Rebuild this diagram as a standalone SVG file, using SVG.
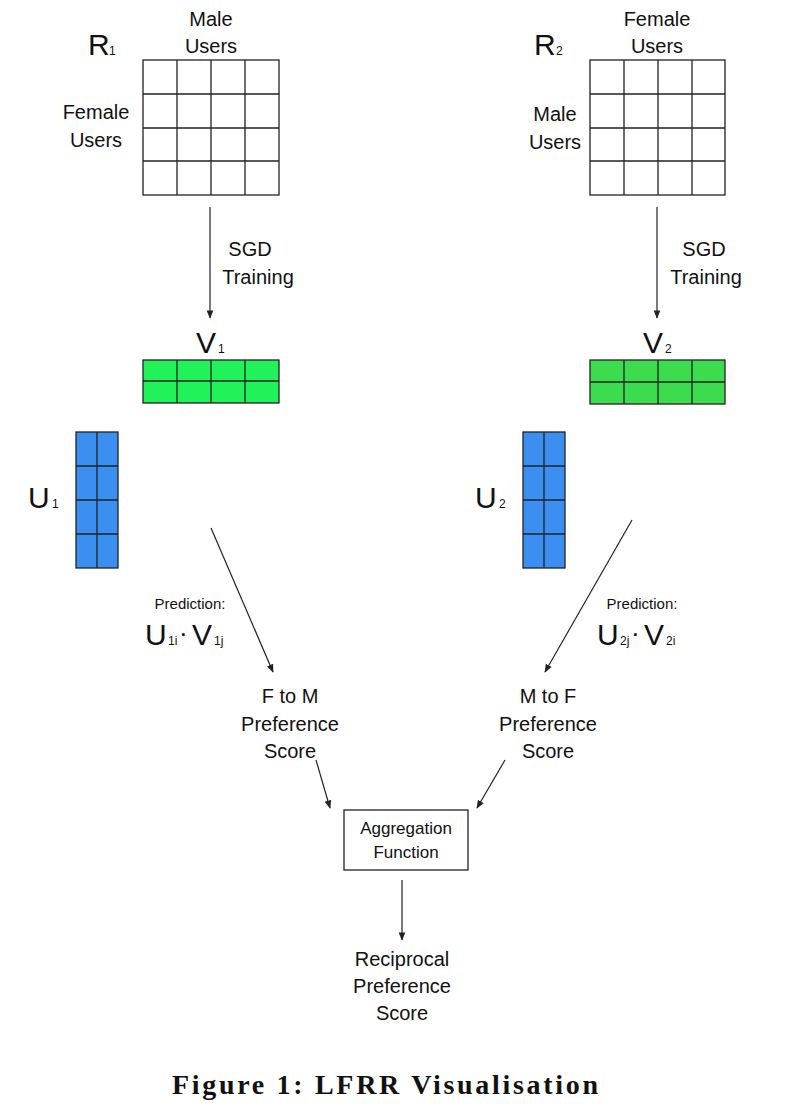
<svg xmlns="http://www.w3.org/2000/svg" width="800" height="1120" viewBox="0 0 800 1120">
<style>
text{font-family:"Liberation Sans",Arial,sans-serif;fill:#111}
.l{font-size:20px;text-anchor:middle}
.big{font-size:30px}
.sub{font-size:12px}
.g{stroke:#222;stroke-width:1.3}
.n{fill:none}
.c{stroke:#222;stroke-width:1.2;fill:none;marker-end:url(#a)}
.cap{font-family:"Liberation Serif",serif;font-weight:bold;font-size:28px}
</style>
<defs>
<marker id="a" viewBox="0 0 10 10" refX="9" refY="5" markerWidth="7" markerHeight="7" orient="auto"><path d="M0,1 L10,5 L0,9 z" fill="#222"/></marker>
</defs>
<rect width="800" height="1120" fill="#fff"/>
<g id="R1">
<rect x="143" y="60" width="136" height="135" fill="#fff" class="g"/>
<path class="g n" d="M177,60V195M211,60V195M245,60V195M143,94H279M143,128H279M143,161H279"/>
<text x="88" y="55" class="big">R</text><text x="109" y="55" class="sub">1</text>
<text x="211" y="26" class="l">Male</text><text x="211" y="53" class="l">Users</text>
<text x="96" y="119" class="l">Female</text><text x="96" y="147" class="l">Users</text>
</g>
<g id="R2">
<rect x="590" y="60" width="135" height="135" fill="#fff" class="g"/>
<path class="g n" d="M624,60V195M658,60V195M692,60V195M590,94H725M590,128H725M590,161H725"/>
<text x="534" y="55" class="big">R</text><text x="556" y="55" class="sub">2</text>
<text x="657" y="26" class="l">Female</text><text x="657" y="53" class="l">Users</text>
<text x="555" y="121" class="l">Male</text><text x="555" y="149" class="l">Users</text>
</g>
<g id="V1">
<rect x="143" y="360" width="136" height="43" fill="#21f25a" class="g"/>
<path class="g n" d="M177,360V403M211,360V403M245,360V403M143,381H279"/>
<text x="196" y="353" class="big">V</text><text x="218" y="353" class="sub">1</text>
</g>
<g id="V2">
<rect x="590" y="360" width="135" height="44" fill="#3ddc4f" class="g"/>
<path class="g n" d="M624,360V404M658,360V404M692,360V404M590,382H725"/>
<text x="643" y="353" class="big">V</text><text x="665" y="353" class="sub">2</text>
</g>
<g id="U1">
<rect x="76" y="432" width="42" height="136" fill="#3a8ff0" class="g"/>
<path class="g n" d="M97,432V568M76,466H118M76,500H118M76,534H118"/>
<text x="28" y="508" class="big">U</text><text x="52" y="508" class="sub">1</text>
</g>
<g id="U2">
<rect x="523" y="432" width="42" height="136" fill="#3a8ff0" class="g"/>
<path class="g n" d="M544,432V568M523,466H565M523,500H565M523,534H565"/>
<text x="475" y="508" class="big">U</text><text x="499" y="508" class="sub">2</text>
</g>
<g id="labels">
<text x="250" y="256" class="l">SGD</text><text x="258" y="284" class="l">Training</text>
<text x="704" y="256" class="l">SGD</text><text x="706" y="284" class="l">Training</text>
<text x="190" y="609" style="font-size:15px;text-anchor:middle">Prediction:</text>
<text x="145" y="645" class="big">U</text><text x="168" y="645" class="sub">1i</text><text x="179" y="642" style="font-size:26px">·</text><text x="192" y="645" class="big">V</text><text x="214" y="645" class="sub">1j</text>
<text x="642" y="609" style="font-size:15px;text-anchor:middle">Prediction:</text>
<text x="597" y="645" class="big">U</text><text x="620" y="645" class="sub">2j</text><text x="631" y="642" style="font-size:26px">·</text><text x="644" y="645" class="big">V</text><text x="666" y="645" class="sub">2i</text>
</g>
<g id="FtoM"><text x="290" y="703" class="l">F to M</text><text x="290" y="731" class="l">Preference</text><text x="290" y="758" class="l">Score</text></g>
<g id="MtoF"><text x="548" y="703" class="l">M to F</text><text x="548" y="731" class="l">Preference</text><text x="548" y="758" class="l">Score</text></g>
<g id="Agg"><rect x="344" y="810" width="124" height="60" fill="#fff" stroke="#222" stroke-width="1.3"/><text x="406" y="834" style="font-size:17px;text-anchor:middle">Aggregation</text><text x="406" y="858" style="font-size:17px;text-anchor:middle">Function</text></g>
<g id="Recip"><text x="402" y="966" class="l">Reciprocal</text><text x="402" y="993" class="l">Preference</text><text x="402" y="1020" class="l">Score</text></g>
<g id="connectors">
<path class="c" d="M210,207V318"/>
<path class="c" d="M657,207V318"/>
<path class="c" d="M211,528L273,672"/>
<path class="c" d="M632,520L545,672"/>
<path class="c" d="M316,760L330,808"/>
<path class="c" d="M505,760L477,808"/>
<path class="c" d="M402,880V940"/>
</g>
<text x="172" y="1094" class="cap" textLength="426" lengthAdjust="spacing">Figure 1:  LFRR Visualisation</text>
</svg>
